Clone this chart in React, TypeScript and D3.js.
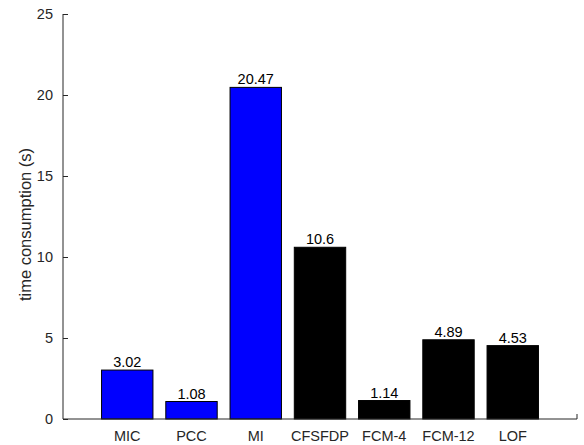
import React, { useRef, useEffect } from 'react';
import * as d3 from 'd3';

const categories: string[] = ['MIC', 'PCC', 'MI', 'CFSFDP', 'FCM-4', 'FCM-12', 'LOF'];
const values: number[] = [3.02, 1.08, 20.47, 10.6, 1.14, 4.89, 4.53];
const valueLabels: string[] = ['3.02', '1.08', '20.47', '10.6', '1.14', '4.89', '4.53'];
const barColors: string[] = ['#0000ff', '#0000ff', '#0000ff', '#000000', '#000000', '#000000', '#000000'];
const yTicks: number[] = [0, 5, 10, 15, 20, 25];

const App: React.FC = () => {
    const ref = useRef<SVGSVGElement | null>(null);

    useEffect(() => {
        if (!ref.current) return;
        const W = 584;
        const H = 445;
        const margin = { top: 14, right: 7, bottom: 26, left: 63 };
        const width = W - margin.left - margin.right;
        const height = H - margin.top - margin.bottom;
        const font = '"Liberation Sans", Arial, Helvetica, sans-serif';
        const axisColor = '#262626';

        const root = d3.select(ref.current);
        root.selectAll('*').remove();
        root.attr('width', W).attr('height', H);

        const svg = root.append('g')
            .attr('transform', `translate(${margin.left},${margin.top})`);

        // x positions 1..7 across a 0..8 range, like matlab's bar()
        const x = d3.scaleLinear().domain([0, categories.length + 1]).range([0, width]);
        const barW = (x(1) - x(0)) * 0.8;

        const y = d3.scaleLinear().domain([0, 25]).range([height, 0]);

        // y axis
        const yAxis = svg.append('g')
            .call(d3.axisLeft(y).tickValues(yTicks).tickSize(-5).tickPadding(10).tickFormat(d3.format('d')));
        yAxis.select('.domain').attr('stroke', axisColor).attr('d', `M0,${height}V0`);
        yAxis.selectAll('.tick line').attr('stroke', axisColor);
        yAxis.selectAll('.tick text')
            .attr('fill', axisColor)
            .style('font-family', font)
            .style('font-size', '14.5px');

        // bars
        svg.selectAll('rect.bar')
            .data(values)
            .join('rect')
            .attr('class', 'bar')
            .attr('x', (_d, i) => x(i + 1) - barW / 2)
            .attr('width', barW)
            .attr('y', d => y(d))
            .attr('height', d => height - y(d))
            .attr('fill', (_d, i) => barColors[i])
            .attr('stroke', '#000')
            .attr('stroke-width', 1);

        // value labels
        svg.selectAll('text.val')
            .data(values)
            .join('text')
            .attr('class', 'val')
            .attr('x', (_d, i) => x(i + 1))
            .attr('y', d => y(d) - 3)
            .attr('text-anchor', 'middle')
            .style('font-family', font)
            .style('font-size', '14.5px')
            .attr('fill', '#000')
            .text((_d, i) => valueLabels[i]);

        // x axis
        svg.append('line')
            .attr('x1', 0).attr('x2', width)
            .attr('y1', height).attr('y2', height)
            .attr('stroke', axisColor);
        svg.append('line')
            .attr('x1', width).attr('x2', width)
            .attr('y1', height).attr('y2', height - 5)
            .attr('stroke', axisColor);

        svg.selectAll('text.cat')
            .data(categories)
            .join('text')
            .attr('class', 'cat')
            .attr('x', (_d, i) => x(i + 1))
            .attr('y', height + 22)
            .attr('text-anchor', 'middle')
            .style('font-family', font)
            .style('font-size', '14.5px')
            .attr('fill', axisColor)
            .text(d => d);

        // y label
        svg.append('text')
            .attr('transform', `translate(${-32},${height / 2 + 8}) rotate(-90)`)
            .attr('text-anchor', 'middle')
            .style('font-family', font)
            .style('font-size', '16.5px')
            .attr('fill', axisColor)
            .text('time consumption (s)');
    }, []);

    return (
        <div style={{ position: 'absolute', left: 0, top: 0 }}>
            <svg ref={ref} style={{ display: 'block' }} />
        </div>
    );
};

export default App;
